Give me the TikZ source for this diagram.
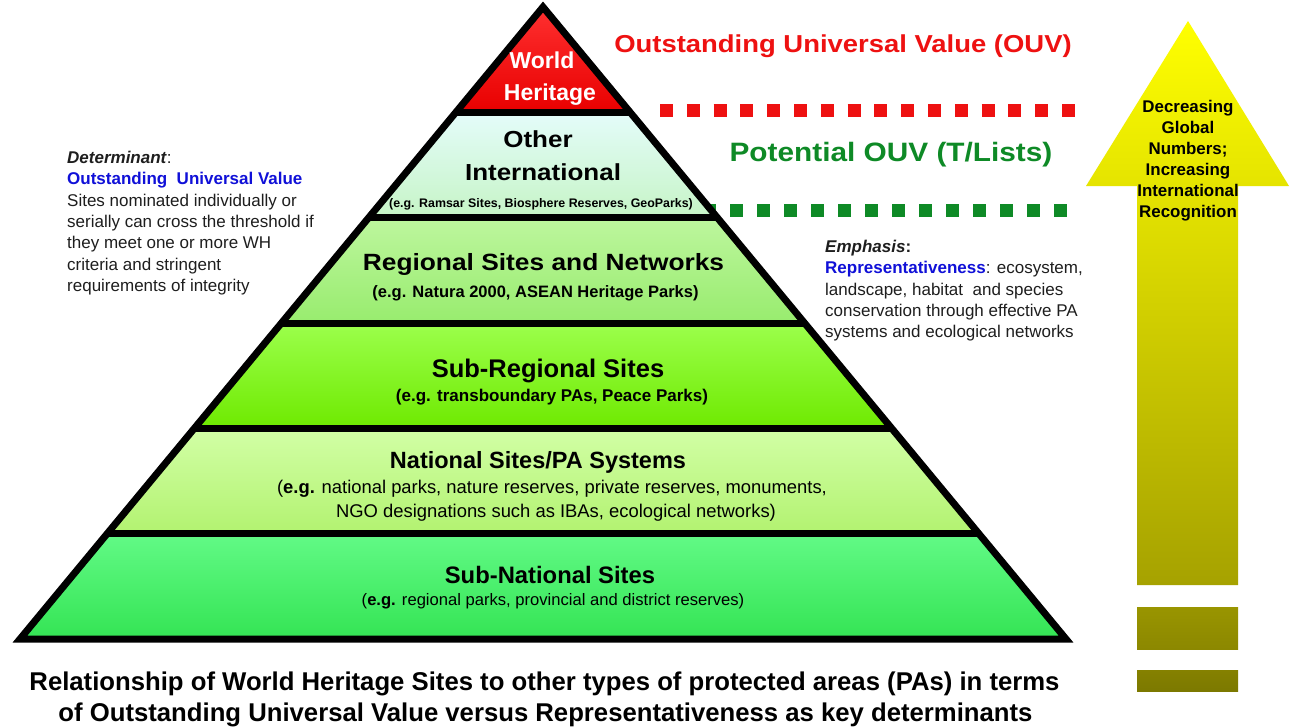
\documentclass[tikz,border=0pt]{standalone}
\usepackage{fontspec}
\setmainfont{Liberation Sans}
\usepackage{graphicx}
\usepackage{tikz}
\usetikzlibrary{calc}
\definecolor{ouvred}{HTML}{EE1111}
\definecolor{ouvgreen}{HTML}{0E8A26}
\definecolor{detblue}{HTML}{1010D8}
\definecolor{notegray}{HTML}{1E1E1E}
\definecolor{whtop}{HTML}{FF3030}
\definecolor{whbot}{HTML}{E80000}
\definecolor{othtop}{HTML}{E4FCFA}
\definecolor{othbot}{HTML}{C6F4C6}
\definecolor{regtop}{HTML}{BDF69E}
\definecolor{regbot}{HTML}{98EC6E}
\definecolor{subregtop}{HTML}{9CFF4C}
\definecolor{subregbot}{HTML}{6EEA00}
\definecolor{nattop}{HTML}{D2FFA6}
\definecolor{natbot}{HTML}{B2F270}
\definecolor{subnattop}{HTML}{62FA86}
\definecolor{subnatbot}{HTML}{34E454}
\definecolor{arrowtop}{HTML}{FFFF00}
\definecolor{arrowbot}{HTML}{A6A200}
\definecolor{stubatop}{HTML}{999500}
\definecolor{stubabot}{HTML}{8C8800}
\definecolor{stubbtop}{HTML}{858100}
\definecolor{stubbbot}{HTML}{7C7900}
\newcommand{\fsz}[2]{\fontsize{#1}{#2}\selectfont}
\newcommand{\wide}[1]{\scalebox{1.12}[1]{#1}}

\begin{document}
\begin{tikzpicture}[x=1pt, y=-1pt,
  whlabel/.style={anchor=base, text=white, font=\bfseries\fsz{23}{23}},
  tierbold/.style={anchor=base, font=\bfseries\fsz{#1}{#1}},
  tiernote/.style={anchor=base, font=\fsz{#1}{#1}},
  note/.style={anchor=north west, align=left, inner sep=0pt, text=notegray, font=\fsz{17}{21.3}},
  arrowtext/.style={anchor=north, align=center, inner sep=0pt, font=\bfseries\fsz{16.9}{21}},
  captionline/.style={anchor=base, font=\bfseries\fsz{25.7}{25.7}}]
  % Background
  \fill[white] (0,0) rectangle (1293,728);
  \useasboundingbox (0,0) rectangle (1293,728);
  % Value thresholds
  \draw[ouvred, line width=13pt, dash pattern=on 13pt off 13.8pt] (660,110) -- (1078,110);
  \draw[ouvgreen, line width=13pt, dash pattern=on 13pt off 14pt] (703,210.5) -- (1067,210.5);
  % Pyramid
  \coordinate (apex) at (543,7);
  \coordinate (bl) at (20,639);
  \coordinate (br) at (1066,639);
  \foreach \ct/\cb [count=\i from 0] in {whtop/whbot, othtop/othbot, regtop/regbot,
      subregtop/subregbot, nattop/natbot, subnattop/subnatbot}{
    \pgfmathsetmacro\ta{\i/6}
    \pgfmathsetmacro\tb{(\i+1)/6}
    \shade[top color=\ct, bottom color=\cb]
      ($(apex)!\ta!(bl)$) -- ($(apex)!\tb!(bl)$) -- ($(apex)!\tb!(br)$) -- ($(apex)!\ta!(br)$) -- cycle;
  }
  \foreach \k in {1,...,5}{
    \pgfmathsetmacro\tk{\k/6}
    \draw[line width=7pt] ($(apex)!\tk!(bl)$) -- ($(apex)!\tk!(br)$);
  }
  \draw[line width=7pt, line join=miter] (apex) -- (bl) -- (br) -- cycle;
  % Tier labels
  \node[whlabel] (wh1) at (542,68) {World};
  \node[whlabel] (wh2) at (550,100) {Heritage};
  \node[tierbold=23.2] (oth1) at (538,147.5) {\wide{Other}};
  \node[tierbold=23.2] (oth2) at (543,180) {\wide{International}};
  \node[tierbold=12.4] (oth3) at (541,207.5) {(e.g. Ramsar Sites, Biosphere Reserves, GeoParks)};
  \node[tierbold=23.5] (reg1) at (543.5,270.5) {\wide{Regional Sites and Networks}};
  \node[tierbold=16.5] (reg2) at (535.5,297) {(e.g. Natura 2000, ASEAN Heritage Parks)};
  \node[tierbold=25.5] (sreg1) at (548,377) {Sub-Regional Sites};
  \node[tierbold=17] (sreg2) at (552,401) {(e.g. transboundary PAs, Peace Parks)};
  \node[tierbold=23.5] (nat1) at (538,468) {National Sites/PA Systems};
  \node[tiernote=18.4] (nat2) at (552,493.5)
    {(\textbf{e.g.} national parks, nature reserves, private reserves, monuments,};
  \node[tiernote=18.4] (nat3) at (556,517.5) {NGO designations such as IBAs, ecological networks)};
  \node[tierbold=23.8] (snat1) at (550,583) {Sub-National Sites};
  \node[tiernote=16.6] (snat2) at (553,605)
    {(\textbf{e.g.} regional parks, provincial and district reserves)};
  % Threshold labels
  \node[tierbold=24.5, text=ouvred] (ouv) at (843,52.3) {\wide{Outstanding Universal Value (OUV)}};
  \node[tierbold=26.6, text=ouvgreen] (pouv) at (891,161.7) {\wide{Potential OUV (T/Lists)}};
  % Side notes
  \node[note] (det) at (67,151)
    {\textbf{\textit{Determinant}}:\\
     \textcolor{detblue}{\textbf{Outstanding\ \ Universal Value}}\\
     Sites nominated individually or\\
     serially can cross the threshold if\\
     they meet one or more WH\\
     criteria and stringent\\
     requirements of integrity};
  \node[note] (emph) at (825,240)
    {\textbf{\textit{Emphasis}:}\\
     \textcolor{detblue}{\textbf{Representativeness}}: ecosystem,\\
     landscape, habitat\ \ and species\\
     conservation through effective PA\\
     systems and ecological networks};
  % Recognition arrow
  \shade[top color=arrowtop, bottom color=arrowbot]
    (1137,585) -- (1137,186) -- (1086,186) -- (1188,21) -- (1289,186) -- (1238,186) -- (1238,585) -- cycle;
  \shade[top color=stubatop, bottom color=stubabot] (1137,607) rectangle (1238,649);
  \shade[top color=stubbtop, bottom color=stubbbot] (1137,670) rectangle (1238,691);
  \node[arrowtext] (arrtxt) at (1188,100)
    {Decreasing\\Global\\Numbers;\\Increasing\\International\\Recognition};
  % Caption
  \node[captionline] (cap1) at (544.5,690.5)
    {Relationship of World Heritage Sites to other types of protected areas (PAs) in terms};
  \node[captionline] (cap2) at (545.5,721.5)
    {of Outstanding Universal Value versus Representativeness as key determinants};
\end{tikzpicture}
\end{document}
